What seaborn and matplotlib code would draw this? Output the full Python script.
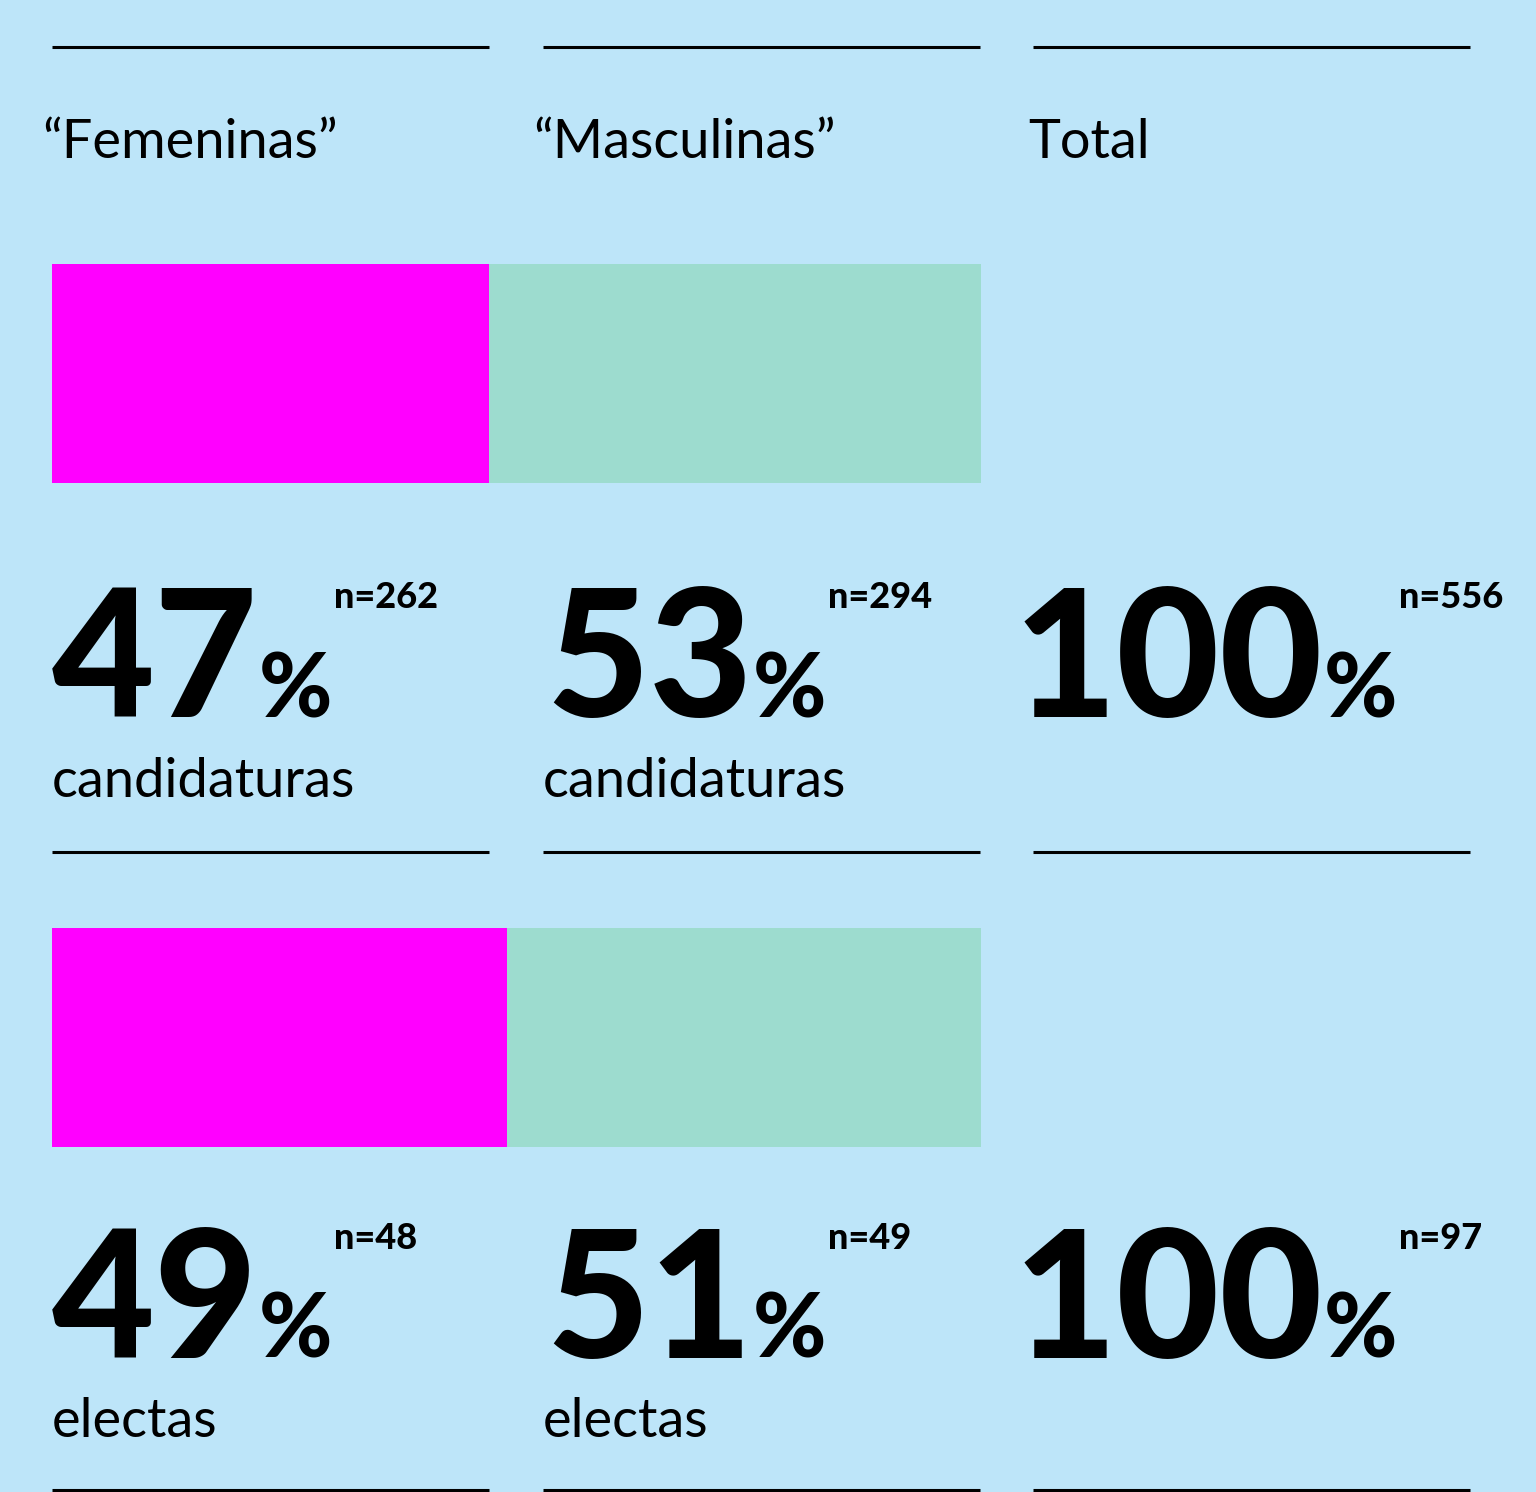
import numpy as np
import pandas as pd
import matplotlib
matplotlib.use('Agg')
import matplotlib.pyplot as plt
import seaborn as sns

# data
columnas = ['\u201cFemeninas\u201d', '\u201cMasculinas\u201d', 'Total']
filas = ['candidaturas', 'electas']
fem_pct = [47, 49]
masc_pct = [53, 51]
total_pct = [100, 100]
fem_n = [262, 48]
masc_n = [294, 49]
total_n = [556, 97]

fondo = '#BDE5F9'
magenta = '#FF00FF'
menta = '#9DDCCF'

sns.set_theme(style='white')
plt.rcParams['font.family'] = ['Lato', 'DejaVu Sans']
plt.rcParams['text.color'] = 'black'

W, H = 1536, 1492
fig = plt.figure(figsize=(W / 100, H / 100), dpi=100, facecolor=fondo)

# overlay axes in pixel units for rules and text
ax = fig.add_axes([0, 0, 1, 1])
ax.set_xlim(0, W)
ax.set_ylim(H, 0)
ax.axis('off')

col_x = [52, 543, 1033]
col_w = 437
for y in [47, 852, 1490]:
    for x in col_x:
        ax.hlines(y, x, x + col_w, color='black', lw=2.2)

head_x = [42, 533, 1028]
for x, c in zip(head_x, columnas):
    ax.text(x, 158, c, fontsize=39, va='baseline', ha='left', color='black')

# stacked bars
df = pd.DataFrame({'fila': filas, 'fem': fem_pct, 'masc': masc_pct})
df['total'] = df['fem'] + df['masc']
bw = 219 / 664
bax = fig.add_axes([52 / W, (H - 1147) / H, 929 / W, 883 / H])
bax.set_facecolor('none')
sns.barplot(data=df, x='total', y='fila', color=menta, saturation=1,
            width=bw, linewidth=0, ax=bax)
sns.barplot(data=df, x='fem', y='fila', color=magenta, saturation=1,
            width=bw, linewidth=0, ax=bax)
bax.set_xlim(0, 100)
bax.set_ylim(1 + bw / 2, -bw / 2)
bax.axis('off')

# big numbers
num_base = [717, 1358]
n_base = [608, 1249]
lab_base = [797, 1437]
num_x = [52, 546, 1014]
for i, fila in enumerate(filas):
    pcts = [fem_pct[i], masc_pct[i], total_pct[i]]
    ns = [fem_n[i], masc_n[i], total_n[i]]
    for j in range(3):
        t = ax.text(num_x[j], num_base[i], str(pcts[j]), fontsize=128,
                    fontweight='black', va='baseline', ha='left', color='black')
        p = ax.annotate('%', xy=(1, num_base[i]), xycoords=(t, 'data'),
                        xytext=(0, 0), textcoords='offset pixels', color='black',
                        fontsize=64, fontweight='black', va='baseline', ha='left')
        ax.annotate('n=%d' % ns[j], xy=(1, n_base[i]), xycoords=(p, 'data'),
                    xytext=(2, 0), textcoords='offset pixels', color='black',
                    fontsize=26, fontweight='black', va='baseline', ha='left')
        if j < 2:
            ax.text(col_x[j], lab_base[i], fila, fontsize=39, color='black',
                    va='baseline', ha='left')

fig.savefig('out.png', dpi=100, facecolor=fondo)
